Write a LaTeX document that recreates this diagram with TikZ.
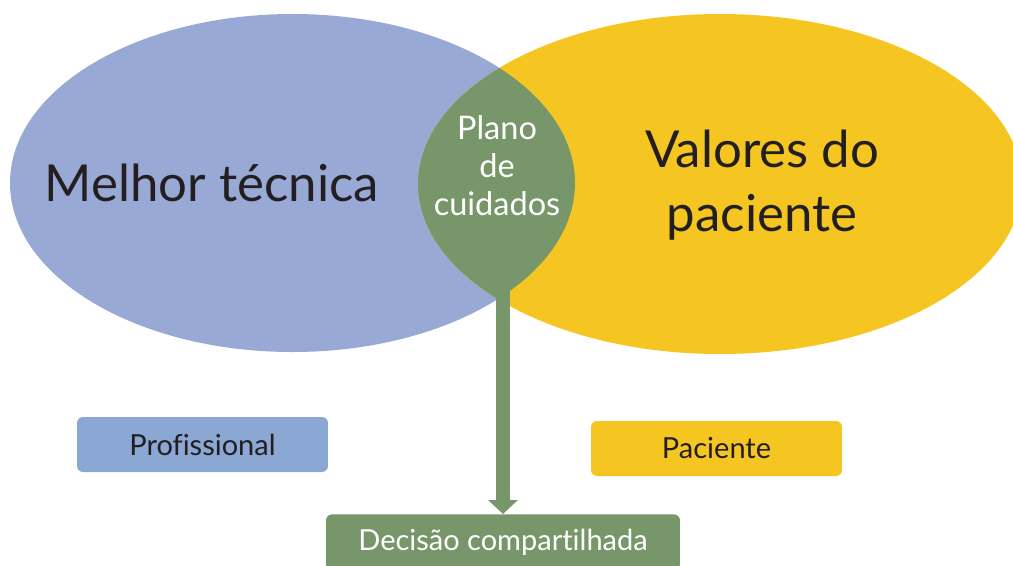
\documentclass[tikz,border=0pt]{standalone}
\usepackage{fontspec}
\setmainfont{Lato}[Ligatures=NoCommon]
\usetikzlibrary{arrows.meta}

\definecolor{tecblue}{HTML}{99A9D5}
\definecolor{boxblue}{HTML}{8BA7D4}
\definecolor{pacyellow}{HTML}{F5C622}
\definecolor{planogreen}{HTML}{77976A}
\definecolor{textdark}{HTML}{231F20}

\tikzset{
	bigtext/.style={text=textdark, font=\fontsize{29}{36}\selectfont, align=center},
	lenstext/.style={text=white, font=\fontsize{18.5}{21.6}\selectfont, align=center},
	rolebox/.style={rounded corners=0.12cm, minimum width=5.02cm, minimum height=1.1cm, text=textdark, font=\fontsize{16.5}{19}\selectfont},
	decbox/.style={rounded corners=0.12cm, fill=planogreen, minimum width=7.08cm, minimum height=1.12cm, text=white, font=\fontsize{16.5}{19}\selectfont},
	bigarrow/.style={planogreen, line width=0.28cm, -{Triangle[width=0.58cm,length=0.28cm]}}
}

\begin{document}
\begin{tikzpicture}[x=0.02cm, y=-0.02cm]
			\useasboundingbox (0,0) rectangle (1013,565);
			
			% the two sets
			\fill[tecblue] (292.5,183) ellipse [x radius=282.5, y radius=169];
			\fill[pacyellow] (720,184) ellipse [x radius=302, y radius=170];
			
			% intersection
			\begin{scope}
				\clip (292.5,183) ellipse [x radius=282.5, y radius=169];
				\fill[planogreen] (720,184) ellipse [x radius=302, y radius=170];
			\end{scope}
			
			\node[bigtext] (tecnica) at (212,183) {Melhor técnica};
			\node[bigtext] (valores) at (762,185) {Valores do\\paciente};
			\node[lenstext] (plano) at (497,166) {Plano\\de\\cuidados};
			
			\node[rolebox, fill=boxblue] (profissional) at (202.5,444.5) {Profissional};
			\node[rolebox, fill=pacyellow] (paciente) at (716.5,448.5) {Paciente};
			\node[decbox, anchor=north] (decisao) at (503,514) {Decisão compartilhada};
			
			\coordinate (lensbase) at (503,280);
			\draw[bigarrow] (lensbase) -- (decisao.north);
\end{tikzpicture}
\end{document}
